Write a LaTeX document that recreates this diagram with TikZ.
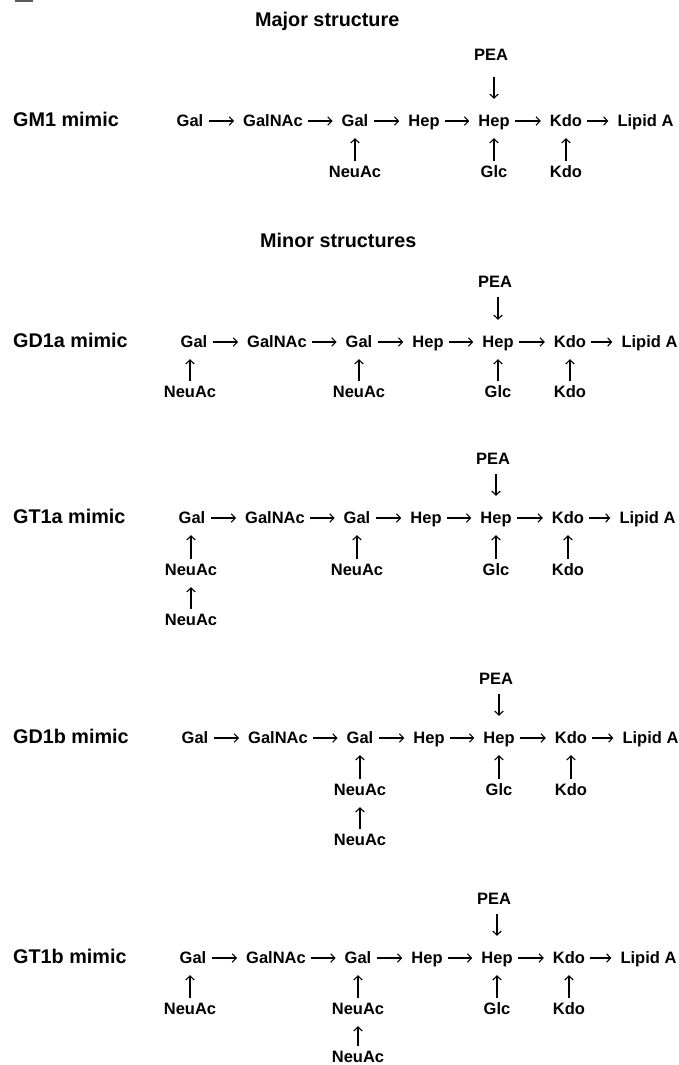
\documentclass[tikz,border=0pt]{standalone}
\usepackage{fontspec}
\setmainfont{Liberation Sans}
\usetikzlibrary{arrows.meta}

\tikzset{
  sug/.style={font=\fontsize{16.5}{18}\bfseries\selectfont, anchor=base,
    inner sep=0pt, text height=13pt, text depth=3pt},
  lbl/.style={font=\fontsize{19.8}{22}\bfseries\selectfont, anchor=base west, inner sep=0pt},
  ttl/.style={font=\fontsize{19.8}{22}\bfseries\selectfont, anchor=base west, inner sep=0pt},
  link/.style={line width=1.1pt, -{Straight Barb[length=4pt,width=8.5pt,line width=1.1pt]}},
  harr/.style={link, shorten <=5pt, shorten >=9pt},
  uarr/.style={link, shorten <=3pt, shorten >=9pt},
  darr/.style={link, shorten >=14pt}
}

% Core chain shared by every structure:
% #1 tag, #2 x offset, #3 baseline, #4 label, #5 PEA baseline, #6 gap below PEA, #7 baseline of lower row
\newcommand{\corechain}[7]{%
  \node[lbl] (lab#1) at (13,#3) {#4 mimic};
  \node[sug] (galA#1)  at (190+#2,#3) {Gal};
  \node[sug] (galnac#1) at (273+#2,#3) {GalNAc};
  \node[sug] (galB#1)  at (355+#2,#3) {Gal};
  \node[sug] (hepA#1)  at (424+#2,#3) {Hep};
  \node[sug] (hepB#1)  at (494+#2,#3) {Hep};
  \node[sug] (kdoA#1)  at (566+#2,#3) {Kdo};
  \node[sug] (lipid#1) at (645.5+#2,#3) {Lipid A};
  \draw[harr] (galA#1) -- (galnac#1);
  \draw[harr] (galnac#1) -- (galB#1);
  \draw[harr] (galB#1) -- (hepA#1);
  \draw[harr] (hepA#1) -- (hepB#1);
  \draw[harr] (hepB#1) -- (kdoA#1);
  \draw[harr] (kdoA#1) -- (lipid#1);
  % phosphoethanolamine on the inner heptose
  \node[sug] (pea#1) at (491+#2,#5) {PEA};
  \draw[darr, shorten <=#6] (pea#1.south -| hepB#1) -- (hepB#1.north);
  % glucose and second Kdo branches
  \node[sug] (glc#1)  at (494+#2,#7) {Glc};
  \node[sug] (kdoB#1) at (566+#2,#7) {Kdo};
  \draw[uarr] (glc#1.north) -- (hepB#1.south);
  \draw[uarr] (kdoB#1.north) -- (kdoA#1.south);
}

\begin{document}
\begin{tikzpicture}[x=1pt, y=-1pt]
\useasboundingbox (0,0) rectangle (678,1065);
\fill[black!65] (15,0) rectangle (33,1.8);

% ---- major structure ----
\node[ttl] (major) at (255,27) {Major structure};
\corechain{1}{0}{126}{GM1}{61}{13pt}{177.5}
\node[sug] (neuB1) at (355,177.5) {NeuAc};
\draw[uarr] (neuB1.north) -- (galB1.south);

% ---- minor structures ----
\node[ttl] (minor) at (260,247) {Minor structures};

% GD1a
\corechain{2}{4}{347}{GD1a}{287}{7pt}{397.5}
\node[sug] (neuA2) at (190,397.5) {NeuAc};
\node[sug] (neuB2) at (359,397.5) {NeuAc};
\draw[uarr] (neuA2.north) -- (neuA2.north |- galA2.south);
\draw[uarr] (neuB2.north) -- (galB2.south);

% GT1a
\corechain{3}{2}{523}{GT1a}{464}{7pt}{575}
\node[sug] (neuA3) at (191,575) {NeuAc};
\node[sug] (neuC3) at (191,625) {NeuAc};
\node[sug] (neuB3) at (357,575) {NeuAc};
\draw[uarr] (neuA3.north) -- (neuA3.north |- galA3.south);
\draw[uarr] (neuC3.north) -- (neuA3.south);
\draw[uarr] (neuB3.north) -- (galB3.south);

% GD1b
\corechain{4}{5}{743}{GD1b}{684}{7pt}{795}
\node[sug] (neuB4) at (360,795) {NeuAc};
\node[sug] (neuC4) at (360,845) {NeuAc};
\draw[uarr] (neuB4.north) -- (galB4.south);
\draw[uarr] (neuC4.north) -- (neuB4.south);

% GT1b
\corechain{5}{3}{963}{GT1b}{904}{7pt}{1014}
\node[sug] (neuA5) at (190,1014) {NeuAc};
\node[sug] (neuB5) at (358,1014) {NeuAc};
\node[sug] (neuC5) at (358,1062) {NeuAc};
\draw[uarr] (neuA5.north) -- (neuA5.north |- galA5.south);
\draw[uarr] (neuB5.north) -- (galB5.south);
\draw[uarr] (neuC5.north) -- (neuB5.south);
\end{tikzpicture}
\end{document}
